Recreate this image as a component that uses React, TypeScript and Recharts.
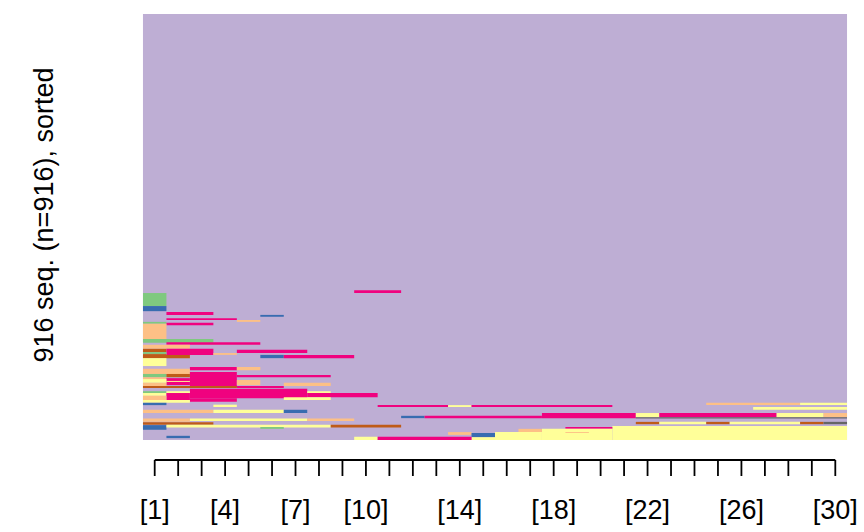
import React from 'react';
import { ComposedChart, XAxis, YAxis, ReferenceArea, Line } from 'recharts';

// time positions (columns)
const positions = [1, 2, 3, 4, 5, 6, 7, 8, 9, 10, 11, 12, 13, 14, 15, 16, 17, 18, 19, 20, 21, 22, 23, 24, 25, 26, 27, 28, 29, 30];
const labeledTicks = [1, 4, 7, 10, 14, 18, 22, 26, 30];
const nSeq = 916;
const yLabel = '916 seq. (n=916), sorted';

// states (Accent palette)
const stateKeys = ['G', 'P', 'O', 'Y', 'B', 'K', 'R', 'D'];
const stateColors = ['#7FC97F', '#BEAED4', '#FDC086', '#FFFF99', '#386CB0', '#F0027F', '#BF5B17', '#666666'];

// runs: [state, fromPosition, toPosition, fromSeq, toSeq] (sequences counted from bottom)
const runs: [string, number, number, number, number][] = [
  ['P', 1, 30, 0, 916],
  ['K', 10, 11, 316, 322],
  ['G', 1, 1, 288, 316],
  ['B', 1, 1, 277, 288],
  ['K', 2, 3, 269, 275],
  ['B', 6, 6, 265, 269],
  ['K', 2, 4, 258, 262],
  ['O', 5, 5, 254, 258],
  ['G', 1, 1, 250, 254],
  ['K', 2, 3, 247, 252],
  ['O', 1, 1, 217, 250],
  ['G', 1, 3, 209, 217],
  ['K', 2, 5, 205, 210],
  ['O', 1, 2, 196, 205],
  ['R', 1, 1, 189, 196],
  ['K', 2, 3, 183, 196],
  ['K', 5, 7, 187, 194],
  ['O', 4, 4, 183, 187],
  ['G', 1, 1, 185, 189],
  ['R', 1, 1, 183, 185],
  ['R', 1, 2, 176, 183],
  ['B', 6, 6, 176, 183],
  ['K', 7, 9, 176, 183],
  ['Y', 1, 1, 159, 176],
  ['K', 3, 4, 150, 157],
  ['O', 5, 5, 150, 157],
  ['O', 1, 2, 142, 153],
  ['K', 3, 4, 114, 146],
  ['G', 1, 1, 135, 142],
  ['R', 2, 2, 135, 142],
  ['K', 5, 8, 135, 140],
  ['O', 1, 1, 131, 135],
  ['K', 2, 2, 118, 133],
  ['Y', 1, 1, 123, 131],
  ['Y', 2, 2, 125, 127],
  ['O', 5, 5, 118, 129],
  ['O', 1, 1, 116, 123],
  ['O', 7, 8, 116, 123],
  ['K', 5, 6, 112, 116],
  ['R', 1, 4, 112, 116],
  ['K', 3, 7, 90, 110],
  ['K', 3, 4, 82, 90],
  ['G', 1, 1, 101, 105],
  ['Y', 2, 2, 101, 105],
  ['Y', 8, 8, 101, 105],
  ['Y', 1, 1, 95, 101],
  ['K', 2, 2, 86, 101],
  ['K', 8, 10, 92, 101],
  ['O', 1, 1, 86, 95],
  ['Y', 7, 8, 86, 92],
  ['Y', 1, 2, 80, 86],
  ['B', 1, 1, 75, 80],
  ['O', 25, 28, 75, 80],
  ['Y', 29, 30, 75, 80],
  ['Y', 4, 4, 71, 76],
  ['K', 11, 13, 71, 75],
  ['Y', 14, 14, 71, 75],
  ['K', 15, 20, 71, 75],
  ['Y', 27, 30, 65, 71],
  ['O', 1, 3, 58, 65],
  ['Y', 4, 6, 58, 65],
  ['B', 7, 7, 58, 65],
  ['K', 18, 21, 47, 58],
  ['Y', 22, 22, 49, 58],
  ['K', 23, 27, 49, 58],
  ['Y', 28, 29, 49, 58],
  ['O', 30, 30, 49, 58],
  ['B', 12, 12, 47, 52],
  ['K', 13, 17, 47, 52],
  ['D', 22, 30, 46, 49],
  ['O', 1, 2, 39, 46],
  ['Y', 3, 7, 41, 46],
  ['O', 8, 9, 41, 46],
  ['R', 1, 3, 33, 38],
  ['R', 22, 22, 34, 39],
  ['Y', 23, 24, 34, 39],
  ['R', 25, 25, 34, 39],
  ['Y', 26, 28, 34, 39],
  ['R', 29, 29, 34, 39],
  ['D', 30, 30, 34, 39],
  ['B', 1, 1, 22, 32],
  ['Y', 2, 8, 27, 33],
  ['R', 9, 11, 27, 33],
  ['G', 6, 6, 24, 28],
  ['Y', 21, 30, 0, 30],
  ['K', 19, 20, 24, 28],
  ['Y', 18, 20, 0, 24],
  ['O', 17, 17, 17, 24],
  ['Y', 16, 17, 0, 17],
  ['O', 19, 19, 15, 17],
  ['O', 14, 14, 11, 17],
  ['B', 15, 15, 6, 15],
  ['Y', 15, 15, 0, 6],
  ['Y', 10, 10, 0, 7],
  ['K', 11, 14, 0, 7],
  ['B', 2, 2, 4, 9],
];

const chartData = positions.map((t) => ({ t }));
const colorOf = (s: string) => stateColors[stateKeys.indexOf(s)];
const FONT = '"Liberation Sans", Arial, sans-serif';

export default function App() {
  return (
    <div style={{ position: 'absolute', left: 0, top: 0, width: 864, height: 532, background: '#fff' }}>
      <ComposedChart
        width={864}
        height={532}
        data={chartData}
        margin={{ top: 14, right: 28.7, bottom: 12, left: 154.7 }}
      >
        <XAxis
          dataKey="t"
          type="number"
          domain={[1, 30]}
          allowDataOverflow
          ticks={positions}
          interval={0}
          height={60}
          tickSize={16}
          tickMargin={24}
          axisLine={{ stroke: '#000', strokeWidth: 1.8 }}
          tickLine={{ stroke: '#000', strokeWidth: 1.8 }}
          tick={{ fontSize: 27, fill: '#000', fontFamily: FONT }}
          tickFormatter={(t: number) => (labeledTicks.includes(t) ? `[${t}]` : '')}
        />
        <YAxis type="number" domain={[-43, nSeq]} allowDataOverflow hide />
        {runs.map(([s, t0, t1, lo, hi], i) => (
          <ReferenceArea
            key={i}
            x1={t0 - 0.5}
            x2={t1 + 0.5}
            y1={lo}
            y2={hi}
            fill={colorOf(s)}
            fillOpacity={1}
            stroke="none"
            ifOverflow="visible"
          />
        ))}
        <Line dataKey="v" stroke="none" dot={false} activeDot={false} isAnimationActive={false} legendType="none" />
      </ComposedChart>
      <svg width={864} height={532} style={{ position: 'absolute', left: 0, top: 0, pointerEvents: 'none' }}>
        <text
          x={53}
          y={215}
          transform="rotate(-90, 53, 215)"
          textAnchor="middle"
          fontSize={27}
          fontFamily={FONT}
          fill="#000"
        >
          {yLabel}
        </text>
      </svg>
    </div>
  );
}
